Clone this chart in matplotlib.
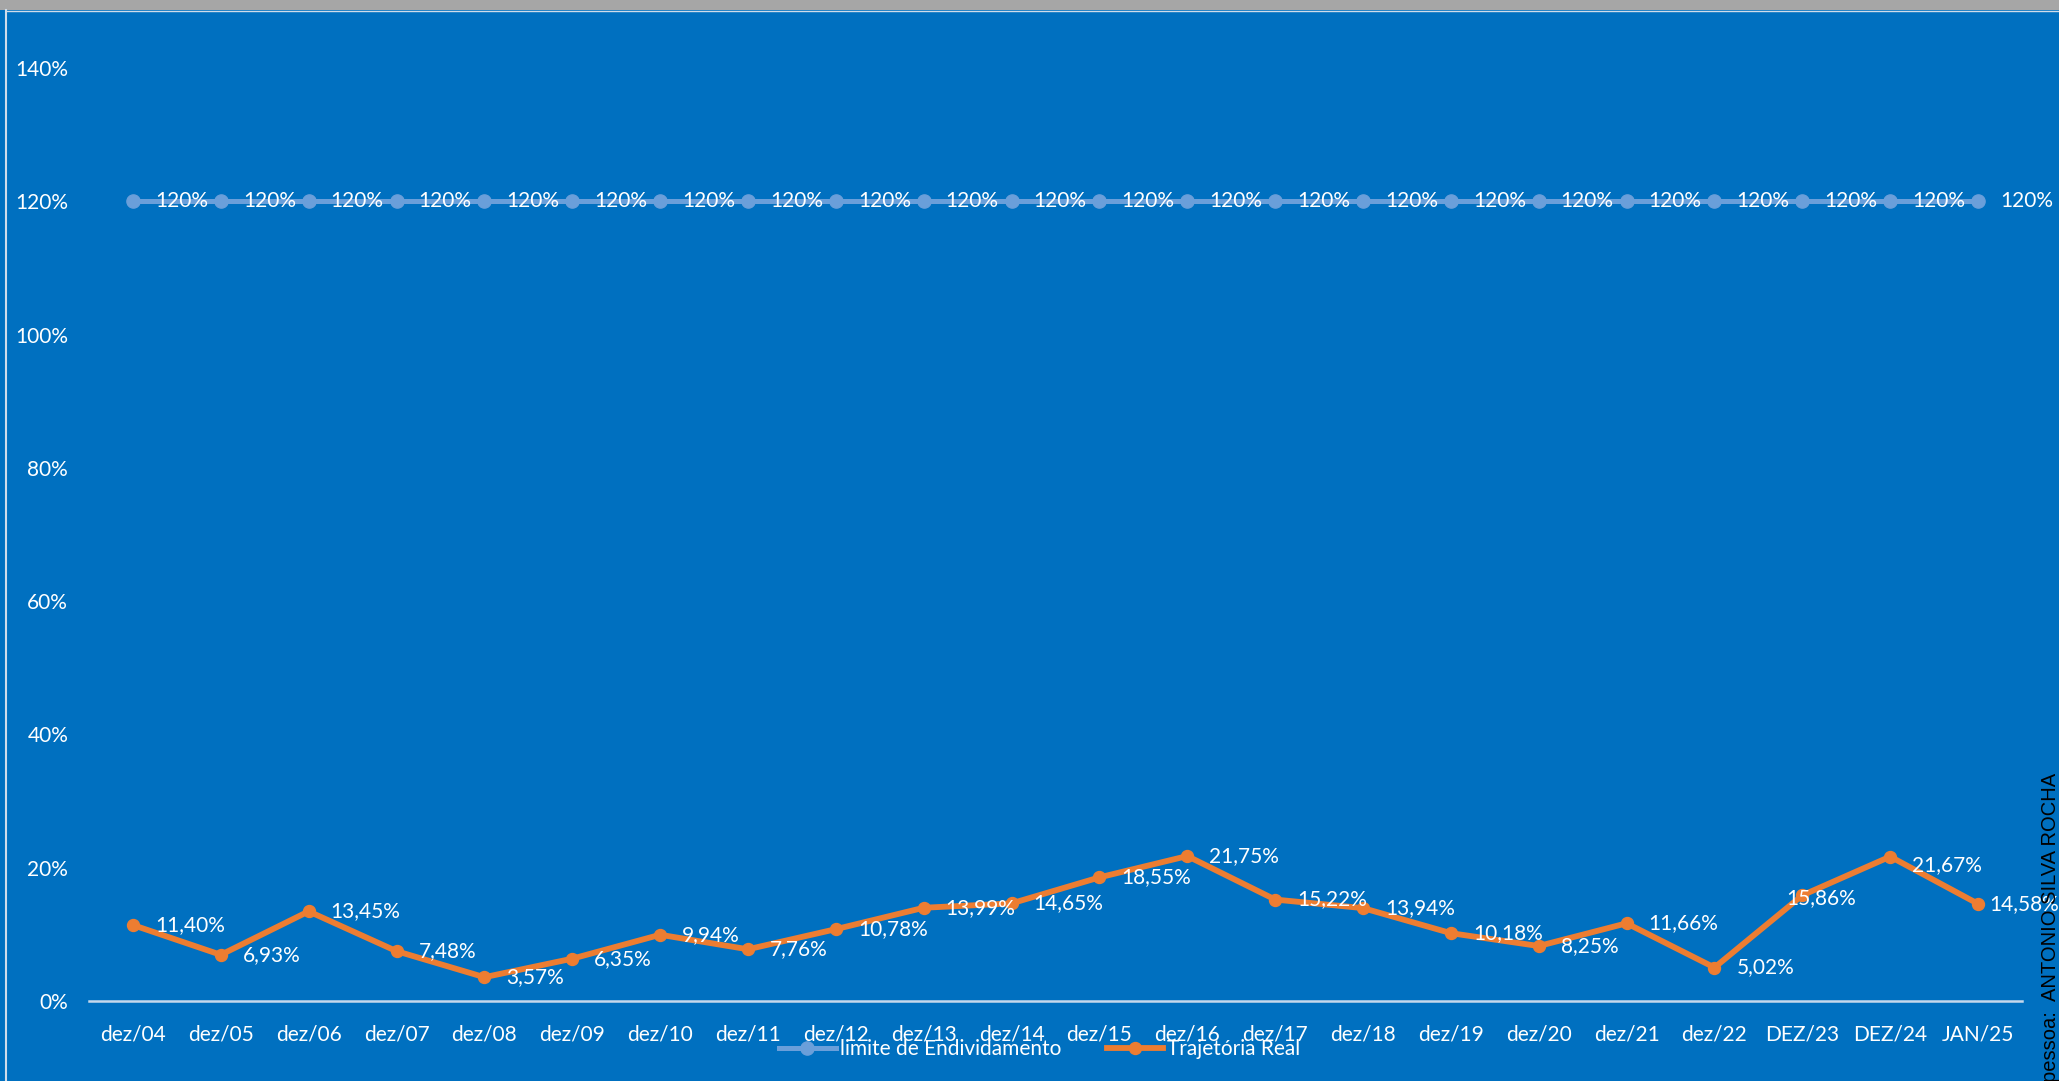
import matplotlib.pyplot as plt
import numpy as np
from matplotlib.lines import Line2D
from matplotlib.patches import Rectangle

# dados do grafico
categorias = ['dez/04', 'dez/05', 'dez/06', 'dez/07', 'dez/08', 'dez/09', 'dez/10',
              'dez/11', 'dez/12', 'dez/13', 'dez/14', 'dez/15', 'dez/16', 'dez/17',
              'dez/18', 'dez/19', 'dez/20', 'dez/21', 'dez/22', 'DEZ/23', 'DEZ/24', 'JAN/25']
limite = [120, 120, 120, 120, 120, 120, 120, 120, 120, 120, 120,
          120, 120, 120, 120, 120, 120, 120, 120, 120, 120, 120]
trajetoria = [11.40, 6.93, 13.45, 7.48, 3.57, 6.35, 9.94, 7.76, 10.78, 13.99, 14.65,
              18.55, 21.75, 15.22, 13.94, 10.18, 8.25, 11.66, 5.02, 15.86, 21.67, 14.58]
y_ticks = [0, 20, 40, 60, 80, 100, 120, 140]

# cores
fundo = '#0070C0'
azul_claro = '#6A9FDA'
laranja = '#ED7D31'
branco = 'white'

plt.rcParams['font.family'] = ['Lato', 'DejaVu Sans']
fs = 15

W, H = 2059, 1081
fig = plt.figure(figsize=(W / 100, H / 100), dpi=100, facecolor=fundo)

# faixa cinza no topo e borda clara
fig.patches.append(Rectangle((0, 1 - 10 / H), 1, 10 / H, transform=fig.transFigure,
                             facecolor='#A6A6A6', edgecolor='none'))
fig.lines.append(Line2D([6 / W, 6 / W], [0, 1 - 10 / H], transform=fig.transFigure,
                        color='#D0DCEA', lw=1.5))
fig.lines.append(Line2D([6 / W, 1], [1 - 11 / H, 1 - 11 / H], transform=fig.transFigure,
                        color='#D0DCEA', lw=1.0))

ax = fig.add_axes([89 / W, 1 - 1001 / H, (2022 - 89) / W, (1001 - 68) / H])
ax.set_facecolor('none')

x = np.arange(len(categorias))

ax.plot(x, limite, color=azul_claro, lw=3.6, marker='o', markersize=9.5,
        label='limite de Endividamento', zorder=3, clip_on=False)
ax.plot(x, trajetoria, color=laranja, lw=4.2, marker='o', markersize=8.6,
        label='Trajetória Real', zorder=4, clip_on=False)

# rotulos de dados
for xi, v in zip(x, limite):
    ax.annotate(f'{v}%', (xi, v), xytext=(22, 0), textcoords='offset pixels',
                ha='left', va='center', color=branco, fontsize=fs, zorder=5,
                annotation_clip=False)

desloc = {19: (-16, -3), 20: (22, -9), 21: (11, 0)}
for xi, v in zip(x, trajetoria):
    dx, dy = desloc.get(xi, (22, 0))
    txt = f'{v:.2f}'.replace('.', ',') + '%'
    ax.annotate(txt, (xi, v), xytext=(dx, dy), textcoords='offset pixels',
                ha='left', va='center', color=branco, fontsize=fs, zorder=5,
                annotation_clip=False)

ax.set_xlim(-0.5, len(categorias) - 0.5)
ax.set_ylim(0, 140)
ax.set_xticks(x)
ax.set_xticklabels(categorias)
ax.set_yticks(y_ticks)
ax.set_yticklabels([f'{t}%' for t in y_ticks])
ax.tick_params(axis='both', length=0, colors=branco, labelsize=fs)
ax.tick_params(axis='x', pad=17)
ax.tick_params(axis='y', pad=15)

for s in ['top', 'right', 'left']:
    ax.spines[s].set_visible(False)
ax.spines['bottom'].set_color('#C6D8EC')
ax.spines['bottom'].set_linewidth(1.8)

leg = fig.legend(loc='center', bbox_to_anchor=(1040 / W, 1 - 1049 / H), ncol=2,
                 frameon=False, fontsize=fs, handlelength=2.7, handletextpad=0.2,
                 columnspacing=2.2, labelcolor=branco)

# texto lateral
fig.text(2050 / W, 1 - 773 / H, 'pessoa:  ANTONIO SILVA ROCHA', rotation=90,
         ha='center', va='top', color='black', fontsize=14.5,
         family='Liberation Sans')

fig.savefig('out.png', dpi=100, facecolor=fundo)
